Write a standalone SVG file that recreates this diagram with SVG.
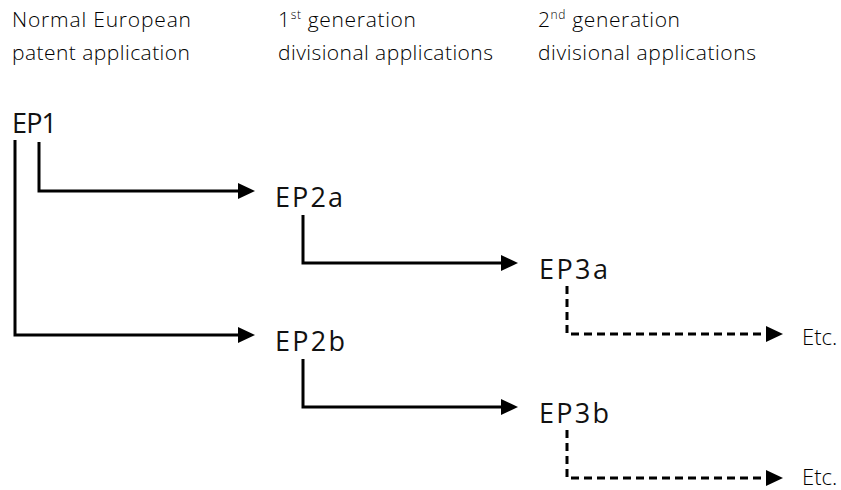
<svg xmlns="http://www.w3.org/2000/svg" width="841" height="490" viewBox="0 0 841 490">
<style>
.hd{font-family:"Open Sans","Liberation Sans",sans-serif;font-weight:300;font-size:21px;fill:#000}
.sup{font-size:12px}
.ep{font-family:"Open Sans","Liberation Sans",sans-serif;font-size:27px;fill:#111}
.etc{font-family:"Open Sans","Liberation Sans",sans-serif;font-weight:300;font-size:22px;fill:#000}
.ln{fill:none;stroke:#000;stroke-width:3;marker-end:url(#ah)}
.ds{fill:none;stroke:#000;stroke-width:3;stroke-dasharray:8 5;marker-end:url(#ah)}
</style>
<defs>
<marker id="ah" markerUnits="userSpaceOnUse" markerWidth="18" markerHeight="18" refX="0" refY="8" orient="auto" viewBox="0 0 18 16">
<path d="M0,0 L17,8 L0,16 z" fill="#000"/>
</marker>
</defs>
<g id="headers">
<text class="hd" x="12" y="27" textLength="179" lengthAdjust="spacing">Normal European</text>
<text class="hd" x="12" y="60" textLength="178" lengthAdjust="spacing">patent application</text>
<text class="hd" x="278" y="27" textLength="138" lengthAdjust="spacing">1<tspan class="sup" dy="-8">st</tspan><tspan dy="8"> generation</tspan></text>
<text class="hd" x="278" y="60" textLength="215" lengthAdjust="spacing">divisional applications</text>
<text class="hd" x="538" y="27" textLength="142" lengthAdjust="spacing">2<tspan class="sup" dy="-8">nd</tspan><tspan dy="8"> generation</tspan></text>
<text class="hd" x="538" y="60" textLength="218" lengthAdjust="spacing">divisional applications</text>
</g>
<g id="connectors">
<path class="ln" d="M39,142 V191 H238"/>
<path class="ln" d="M15,140 V335 H238"/>
<path class="ln" d="M303,215 V263 H501"/>
<path class="ln" d="M303,359 V407 H501"/>
<path class="ds" d="M567,286 V334 H766"/>
<path class="ds" d="M567,430 V478 H766"/>
</g>
<g id="EP1"><text class="ep" x="12" y="133" textLength="45" lengthAdjust="spacing">EP1</text></g>
<g id="EP2a"><text class="ep" x="275" y="207" textLength="68" lengthAdjust="spacing">EP2a</text></g>
<g id="EP2b"><text class="ep" x="275" y="351" textLength="70" lengthAdjust="spacing">EP2b</text></g>
<g id="EP3a"><text class="ep" x="539" y="279" textLength="69" lengthAdjust="spacing">EP3a</text></g>
<g id="EP3b"><text class="ep" x="539" y="423" textLength="70" lengthAdjust="spacing">EP3b</text></g>
<g id="Etc1"><text class="etc" x="802" y="345">Etc.</text></g>
<g id="Etc2"><text class="etc" x="802" y="485">Etc.</text></g>
</svg>
